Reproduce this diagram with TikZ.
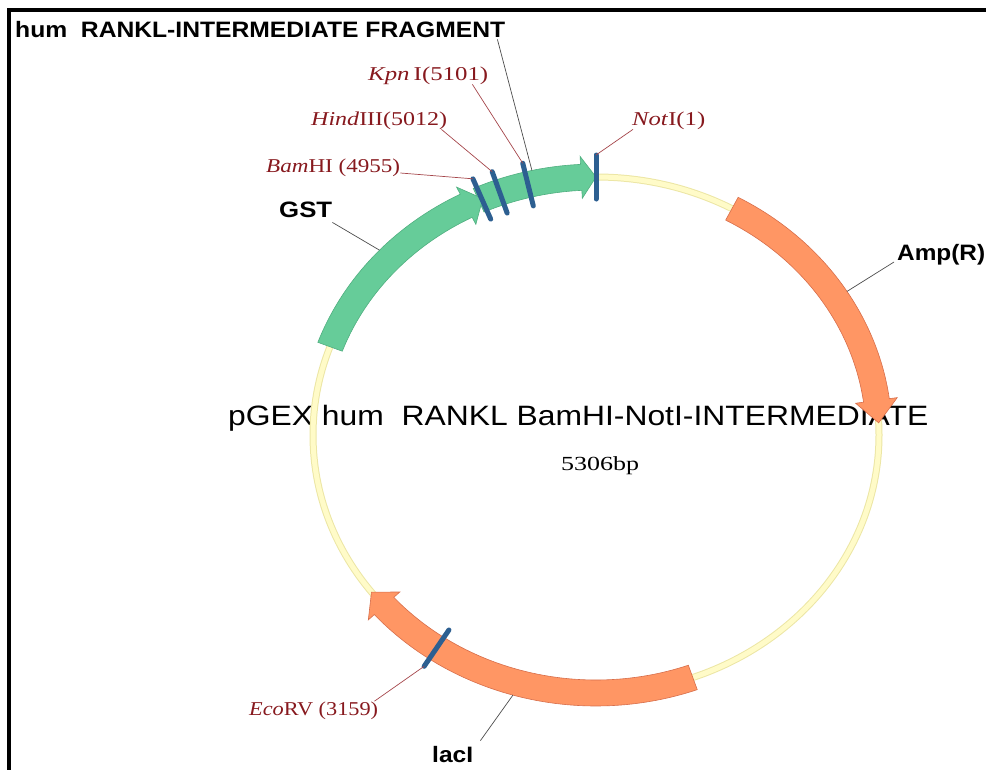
\documentclass[tikz,border=0pt]{standalone}
\usepackage{fontspec}
\usepackage{graphicx}
\newfontfamily\lsans{Liberation Sans}
\newfontfamily\lserif{Liberation Serif}
\definecolor{bbfill}{RGB}{255,251,200}
\definecolor{bbedge}{RGB}{236,230,165}
\definecolor{gstg}{RGB}{102,204,153}
\definecolor{gstedge}{RGB}{80,175,128}
\definecolor{orng}{RGB}{255,150,100}
\definecolor{orngedge}{RGB}{215,110,75}
\definecolor{markblue}{RGB}{45,95,145}
\definecolor{lblred}{RGB}{135,25,30}
\definecolor{leadred}{RGB}{165,70,75}
\tikzset{
  lab/.style={inner sep=0pt, anchor=base west},
  redlab/.style={lab, text=lblred, font=\lserif\fontsize{19.6}{21}\selectfont},
  boldlab/.style={lab, text=black, font=\lsans\bfseries\fontsize{22.3}{24}\selectfont},
  redlead/.style={draw=leadred, line width=0.7pt},
  blklead/.style={draw=black!70, line width=0.7pt},
  markst/.style={draw=markblue, line width=5pt, line cap=round},
}
\newcommand\fitw[2]{\resizebox{#1pt}{\height}{#2}}
% feature arrow: #1 tail angle, #2 head base angle, #3 tip angle, #4 fill, #5 edge
\newcommand\featarrow[5]{%
  \filldraw[fill=#4, draw=#5, line width=0.6pt, line join=miter]
    plot[domain=#1:#2, samples=60, variable=\t] ({596+296*cos(\t)},{435-271*sin(\t)})
    -- ({596+304*cos(#2)},{435-279*sin(#2)})
    -- ({596+283*cos(#3)},{435-258*sin(#3)})
    -- ({596+262*cos(#2)},{435-237*sin(#2)})
    -- plot[domain=#2:#1, samples=60, variable=\t] ({596+270*cos(\t)},{435-245*sin(\t)})
    -- cycle;}
% cut mark: #1 angle, #2 name
\newcommand\cutmark[2]{%
  \draw[markst] ({596+261*cos(#1)},{435-236*sin(#1)}) coordinate (#2in)
    -- ({596+305*cos(#1)},{435-280*sin(#1)}) coordinate (#2out);}
\begin{document}
\begin{tikzpicture}[x=1pt,y=-1pt]
\useasboundingbox (0,0) rectangle (986,769);
\begin{scope}
  \clip (0,0) rectangle (986,769);
  \draw[line width=3.3pt] (9,780) -- (9,10) -- (995,10);
\end{scope}

% texts
\node[boldlab] (title) at (15,37) {\fitw{490}{hum\ \ RANKL-INTERMEDIATE FRAGMENT}};
\node[redlab] (kpn) at (368,80) {\fitw{120}{\textit{Kpn}\,I(5101)}};
\node[redlab] (hind) at (311,125) {\fitw{136}{\textit{Hind}III(5012)}};
\node[redlab] (noti) at (632,125) {\fitw{73}{\textit{Not}I(1)}};
\node[redlab] (bam) at (266,172) {\fitw{134}{\textit{Bam}HI (4955)}};
\node[redlab] (eco) at (249,715) {\fitw{129}{\textit{Eco}RV (3159)}};
\node[boldlab] (gst) at (279,217) {\fitw{53}{GST}};
\node[boldlab] (amp) at (897,260) {\fitw{88}{Amp(R)}};
\node[boldlab] (laci) at (432,762) {\fitw{41}{lacI}};
\node[lab, font=\lsans\fontsize{28}{30}\selectfont] (pname) at (228,425)
  {\fitw{700}{pGEX hum\ \ RANKL BamHI-NotI-INTERMEDIATE}};
\node[lab, font=\lserif\fontsize{20}{22}\selectfont] (psize) at (561,470) {\fitw{78}{5306bp}};

% backbone
\draw[bbedge, line width=7pt] (596,435) ellipse [x radius=283, y radius=258];
\draw[bbfill, line width=5pt] (596,435) ellipse [x radius=283, y radius=258];

% features
\featarrow{114.5}{93}{90}{gstg}{gstedge}
\featarrow{160}{117.3}{113.6}{gstg}{gstedge}
\featarrow{61.3}{7.7}{2.7}{orng}{orngedge}
\featarrow{290}{221.5}{217.5}{orng}{orngedge}

% leader end points on feature edges
\coordinate (fragedge) at ({596+296*cos(102.5)},{435-271*sin(102.5)});
\coordinate (gstedgept) at ({596+296*cos(137)},{435-271*sin(137)});
\coordinate (ampedgept) at ({596+296*cos(32)},{435-271*sin(32)});
\coordinate (laciedgept) at ({596+296*cos(253.7)},{435-271*sin(253.7)});

% black leaders
\draw[blklead] ([xshift=-8pt,yshift=-2pt]title.south east) -- (fragedge);
\draw[blklead] ([yshift=-5pt]gst.south east) -- (gstedgept);
\draw[blklead] ([xshift=-3pt,yshift=-2pt]amp.base west) -- (ampedgept);
\draw[blklead] ([xshift=7pt,yshift=5pt]laci.north east) -- (laciedgept);

% cut sites
\cutmark{113.8}{bam}
\cutmark{109.9}{hind}
\cutmark{103.9}{kpn}
\cutmark{90}{not}
\cutmark{235.7}{eco}

% red leaders
\draw[redlead] ([yshift=-1pt]bam.base east) -- (bamout);
\draw[redlead] ([xshift=-6pt]hind.south east) -- (hindout);
\draw[redlead] ([xshift=-16pt]kpn.south east) -- (kpnout);
\draw[redlead] ([xshift=1pt]noti.south west) -- (notout);
\draw[redlead] ([xshift=-4pt]eco.north east) -- (ecoout);
\end{tikzpicture}
\end{document}
